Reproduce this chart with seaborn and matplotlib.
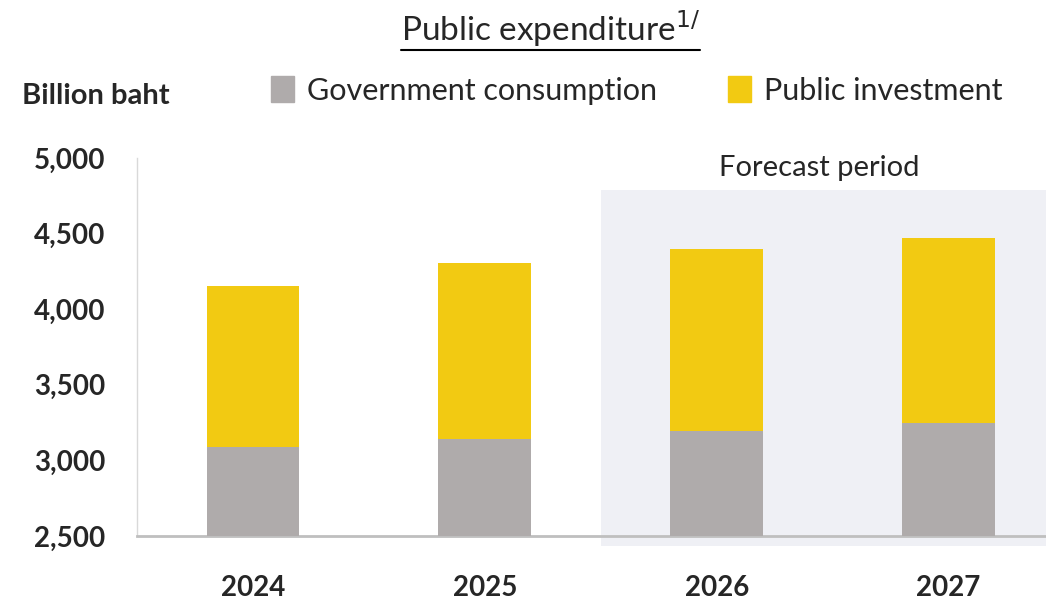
import matplotlib
matplotlib.use("Agg")
import matplotlib.pyplot as plt
import matplotlib.patches as mpatches
import seaborn as sns
import pandas as pd

# data (billion baht)
years = ["2024", "2025", "2026", "2027"]
gov_consumption = [3090, 3143, 3196, 3249]
public_investment = [1061, 1161, 1201, 1221]
y_ticks = [2500, 3000, 3500, 4000, 4500, 5000]

gray = "#AFABAB"
yellow = "#F2CA12"

df = pd.DataFrame({"Year": years, "Gov": gov_consumption, "Inv": public_investment})
df["Total"] = df["Gov"] + df["Inv"]

sns.set_style("white")
plt.rcParams["font.family"] = ["Lato", "DejaVu Sans"]

fig = plt.figure(figsize=(10.46, 6.03), dpi=100)
ax = fig.add_axes([0.131, 0.111, 0.869, 0.627])

# forecast shade
ax.add_patch(mpatches.Rectangle((1.5, -0.025), 2.0, 0.94, transform=ax.get_xaxis_transform(),
                                facecolor="#EFF0F5", edgecolor="none", zorder=0, clip_on=False))

sns.barplot(data=df, x="Year", y="Total", color=yellow, width=0.4, saturation=1, linewidth=0, ax=ax, zorder=2)
sns.barplot(data=df, x="Year", y="Gov", color=gray, width=0.4, saturation=1, linewidth=0, ax=ax, zorder=3)

ax.set_ylim(2500, 5000)
ax.set_xlim(-0.5, 3.42)
ax.set_yticks(y_ticks)
ax.set_yticklabels([f"{v:,}" for v in y_ticks], fontsize=20, fontweight="bold")
ax.set_xticklabels(years, fontsize=20, fontweight="bold")
ax.tick_params(axis="y", length=0, pad=23)
ax.tick_params(axis="x", length=0, pad=28)
ax.set_xlabel("")
ax.set_ylabel("")

for s in ["top", "right"]:
    ax.spines[s].set_visible(False)
ax.spines["left"].set_color("#D9D9D9")
ax.spines["left"].set_linewidth(1)
ax.spines["bottom"].set_color("#BFBFBF")
ax.spines["bottom"].set_linewidth(2)
ax.set_facecolor("none")

ax.text(2.44, 4934, "Forecast period", ha="center", va="center", fontsize=21)

# title with underline
t = fig.text(0.526, 0.953, r"Public expenditure$^{1/}$", ha="center", va="center", fontsize=24)
fig.canvas.draw()
bb = t.get_window_extent().transformed(fig.transFigure.inverted())
fig.add_artist(plt.Line2D([bb.x0, bb.x1], [bb.y0 - 0.002, bb.y0 - 0.002], color="black", lw=1.5,
                          transform=fig.transFigure))

fig.text(0.021, 0.84, "Billion baht", ha="left", va="center", fontsize=21, fontweight="bold")

handles = [mpatches.Patch(color=gray, label="Government consumption"),
           mpatches.Patch(color=yellow, label="Public investment")]
fig.legend(handles=handles, loc="center left", bbox_to_anchor=(0.2325, 0.85), ncol=2, frameon=False,
           fontsize=22, handlelength=0.75, handleheight=0.9, handletextpad=0.45, columnspacing=2.3)

plt.savefig("out.png", dpi=100)
